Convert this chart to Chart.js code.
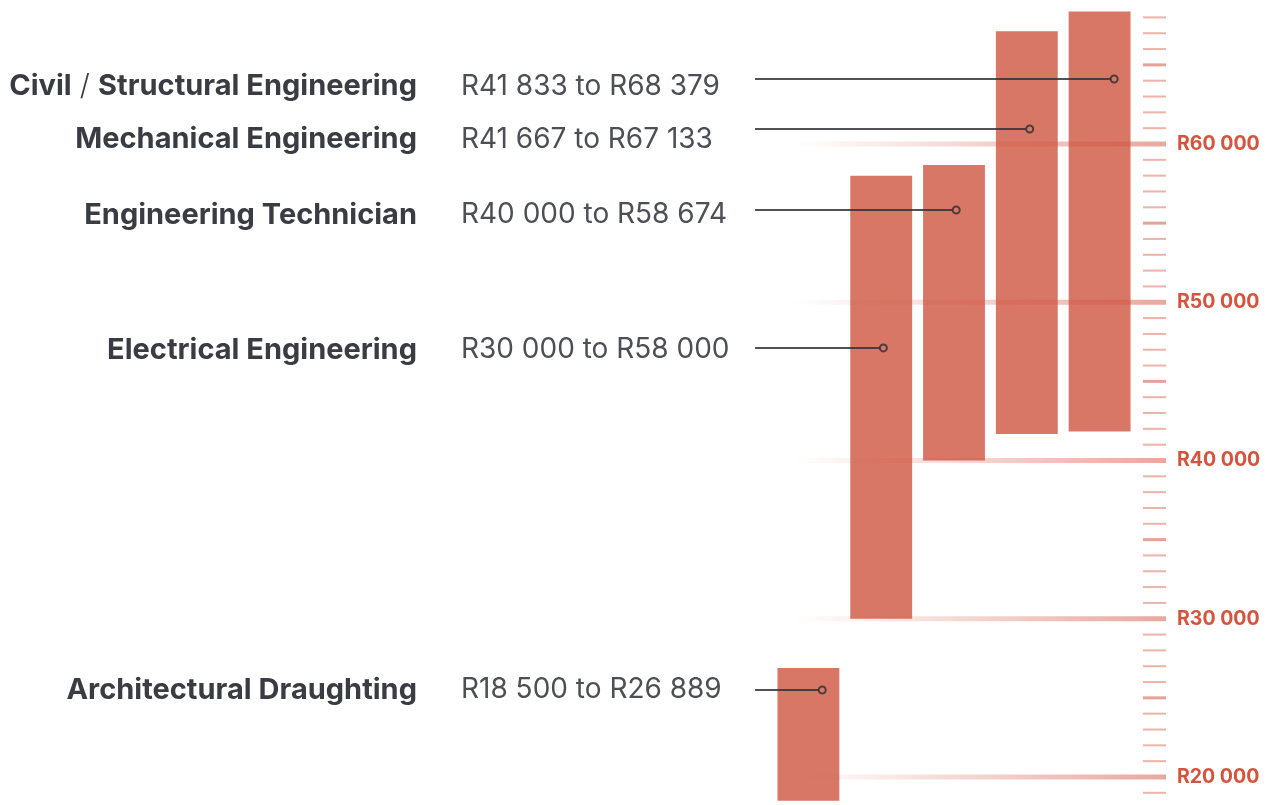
<!DOCTYPE html>
<html>
<head>
<meta charset="utf-8">
<script src="https://cdn.jsdelivr.net/npm/chart.js@4.4.1/dist/chart.umd.min.js"></script>
<style>
  html, body { margin: 0; padding: 0; background: #fff; }
  #wrap { width: 1274px; height: 805px; position: relative; }
</style>
</head>
<body>
<div id="wrap"><canvas id="salaries"></canvas></div>
<script>
// bars, left to right
var categories = ["Architectural Draughting", "Electrical Engineering", "Engineering Technician", "Mechanical Engineering", "Civil / Structural Engineering"]
var salaryLow  = [18500, 30000, 40000, 41667, 41833]
var salaryHigh = [26889, 58000, 58674, 67133, 68379]

// right hand ruler
var yTicks = [20000, 30000, 40000, 50000, 60000]
var yMin = 18230
var yMax = 69100
var rulerTop = 68000

// where each label row and its pointer sit, in rand on the y scale
var labelRow   = [25500, 46990, 55510, 60310, 63660]
var pointerRow = [25498, 47113, 55830, 60948, 64107]
// pointer dot, shifted right from the bar centre (in categories)
var pointerShift = [0.19, 0.03, 0.03, 0.04, 0.2]

var labelFont = "Inter"
var ink = "#3a3c43"
var soft = "#4d4f55"
var red = "#d4553f"

function rand(n) {
  return "R" + String(n).replace(/\B(?=(\d{3})+(?!\d))/g, " ")
}

var annotations = {
  id: "annotations",
  afterDatasetsDraw: function(chart) {
    var ctx = chart.ctx
    var x = chart.scales.x
    var y = chart.scales.y
    var right = chart.chartArea.right
    ctx.save()

    // ruler: gradient bands at the labelled values, small ticks every R1 000
    for (var v = Math.ceil(yMin / 1000) * 1000; v <= rulerTop; v += 1000) {
      var py = y.getPixelForValue(v)
      if (yTicks.indexOf(v) >= 0) {
        var g = ctx.createLinearGradient(chart.chartArea.left + 22, 0, right + 30, 0)
        g.addColorStop(0, "rgba(212,88,68,0)")
        g.addColorStop(1, "rgba(212,88,68,0.52)")
        ctx.strokeStyle = g
        ctx.lineWidth = 5
        ctx.beginPath()
        ctx.moveTo(chart.chartArea.left + 22, py)
        ctx.lineTo(right + 30, py)
        ctx.stroke()
      } else {
        ctx.strokeStyle = v % 5000 == 0 ? "rgba(212,100,85,0.6)" : "rgba(222,115,100,0.55)"
        ctx.lineWidth = v % 5000 == 0 ? 3 : 2
        ctx.beginPath()
        ctx.moveTo(right + 7, py)
        ctx.lineTo(right + 30, py)
        ctx.stroke()
      }
    }

    // labels, ranges and pointers
    ctx.textBaseline = "middle"
    for (var i = 0; i < categories.length; i++) {
      var ty = y.getPixelForValue(labelRow[i])
      var parts = categories[i].split(" / ")
      ctx.fillStyle = ink
      ctx.textAlign = "right"
      if (parts.length == 2) {
        ctx.font = "bold 29px " + labelFont
        ctx.fillText(parts[1], 417, ty)
        var w = ctx.measureText(parts[1]).width
        ctx.font = "300 29px " + labelFont
        ctx.fillText(" / ", 417 - w, ty)
        var w2 = ctx.measureText(" / ").width
        ctx.font = "bold 29px " + labelFont
        ctx.fillText(parts[0], 417 - w - w2, ty)
      } else {
        ctx.font = "bold 29px " + labelFont
        ctx.fillText(categories[i], 417, ty)
      }
      ctx.textAlign = "left"
      ctx.fillStyle = soft
      ctx.font = "normal 28px " + labelFont
      ctx.fillText(rand(salaryLow[i]) + " to " + rand(salaryHigh[i]), 461, ty)

      var ly = y.getPixelForValue(pointerRow[i])
      var lx = x.getPixelForValue(i + pointerShift[i])
      ctx.strokeStyle = "rgba(50,50,56,0.85)"
      ctx.lineWidth = 2
      ctx.beginPath()
      ctx.moveTo(755, ly)
      ctx.lineTo(lx - 3.5, ly)
      ctx.stroke()
      ctx.beginPath()
      ctx.arc(lx, ly, 3.5, 0, Math.PI * 2)
      ctx.stroke()
    }
    ctx.restore()
  }
}

var ctx = document.getElementById("salaries").getContext("2d")
var chart = new Chart(ctx, {
  type: "bar",
  data: {
    labels: categories,
    datasets: [{
      data: categories.map(function(c, i) { return [salaryLow[i], salaryHigh[i]] }),
      backgroundColor: "#d87766",
      borderWidth: 0,
      barPercentage: 0.85,
      categoryPercentage: 1
    }]
  },
  options: {
    responsive: true,
    maintainAspectRatio: false,
    animation: false,
    layout: { padding: { left: 772, right: 0, top: 0, bottom: 0 } },
    plugins: { legend: { display: false }, tooltip: { enabled: false } },
    scales: {
      x: { display: false },
      y: {
        position: "right",
        min: yMin,
        max: yMax,
        afterBuildTicks: function(s) { s.ticks = yTicks.map(function(v) { return { value: v } }) },
        // keep the full height for the plot, labels sit well inside it
        afterFit: function(s) { s.width = 138; s.paddingTop = 0; s.paddingBottom = 0 },
        grid: { display: false, drawTicks: false },
        border: { display: false },
        ticks: {
          padding: 41,
          color: red,
          font: { family: labelFont, size: 19.5, weight: "bold" },
          callback: function(v) { return rand(v) }
        }
      }
    }
  },
  plugins: [annotations]
})
</script>
</body>
</html>
